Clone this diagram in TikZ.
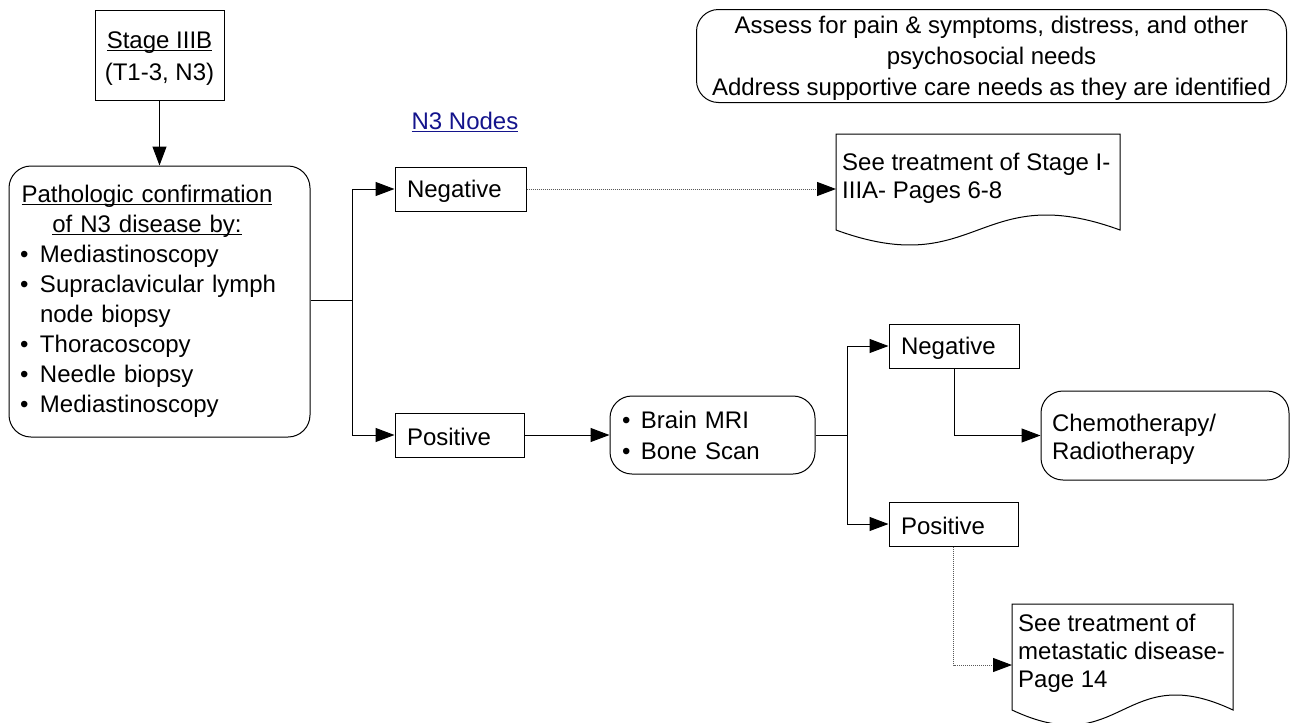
\documentclass[tikz,border=0pt]{standalone}
\usepackage{fontspec}
\setmainfont{Liberation Sans}
\usetikzlibrary{arrows.meta}

\definecolor{linkblue}{RGB}{20,20,140}
\newcommand{\bul}[1][20pt]{\makebox[#1][l]{\textbullet}}
% underline set close to the baseline
\newcommand{\ulx}[1]{\setbox0\hbox{#1}\rlap{\rule[-2.6pt]{\wd0}{1.1pt}}\box0}
% lower a block of text without changing the size it reports
\newcommand{\sinktext}[2]{\raisebox{-#1}[\height][\depth]{#2}}

\begin{document}
\begin{tikzpicture}[x=1pt,y=-1pt,
  every node/.style={font=\fontsize{24}{28}\selectfont},
  box/.style={draw=black, line width=1pt, fill=white, inner ysep=0pt},
  lbox/.style={box, align=left, inner xsep=12pt},
  rbox/.style={box, rounded corners=22pt},
  conn/.style={line width=1pt},
  tip/.style={-{Triangle[length=19pt,width=14pt,black]}},
  arr/.style={conn, tip},
  dotconn/.style={line width=1pt, draw=black!65, dash pattern=on 1pt off 1pt, tip},
  docline/.style={draw=black, line width=1pt, fill=white}]

\useasboundingbox (0,0) rectangle (1291,723);

% ---- stage and confirmation ----
\node[box, minimum width=129pt, minimum height=90pt,
      font=\fontsize{24}{32}\selectfont] (stage) at (159.5,55)
  {\sinktext{3pt}{\begin{tabular}{@{}c@{}}\ulx{Stage IIIB}\\(T1-3, N3)\end{tabular}}};

\node[rbox, minimum width=301pt, minimum height=271pt, align=left,
      inner xsep=11pt, text width=279pt,
      font=\fontsize{24}{30}\selectfont] (path) at (159.5,301.5)
  {\makebox[254pt]{\ulx{Pathologic confirmation}}\\
   \makebox[254pt]{\ulx{of N3 disease by:}}\\
   \bul Mediastinoscopy\\
   \bul Supraclavicular lymph\\
   \hspace*{20pt}node biopsy\\
   \bul Thoracoscopy\\
   \bul Needle biopsy\\
   \bul Mediastinoscopy};

\draw[arr] (stage.south) -- (path.north);

% ---- first split ----
\node[lbox, minimum height=44pt, text width=107pt] (neg1) at (460.5,189) {\sinktext{2pt}{Negative}};
\node[lbox, minimum height=44pt, text width=105pt] (pos1) at (459.5,435) {\sinktext{2pt}{Positive}};
\node[text=linkblue] (n3) at (465,122) {\ulx{N3 Nodes}};

\coordinate (j1) at (352,300);
\draw[conn] (path.east |- j1) -- (j1);
\draw[arr] (j1) |- (neg1.west);
\draw[arr] (j1) |- (pos1.west);

% ---- document: stage I-IIIA (wavy lower edge) ----
\draw[docline] (836,134) -- (1120,134) -- (1120,230)
  .. controls (978,178) and (978,282) .. (836,230) -- cycle;
\node[anchor=north west, align=left, inner sep=0pt] (doc1) at (842,153)
  {See treatment of Stage I-\\IIIA- Pages 6-8};
\coordinate (doc1in) at (836,189);
\draw[dotconn] (neg1.east) -- (doc1in);

% ---- imaging ----
\node[rbox, minimum width=205pt, minimum height=78pt, align=left,
      inner xsep=12pt, text width=181pt,
      font=\fontsize{24}{31}\selectfont] (brain) at (712.5,435)
  {\bul[19pt]Brain MRI\\ \bul[19pt]Bone Scan};
\draw[arr] (pos1.east) -- (brain.west);

% ---- second split ----
\node[lbox, minimum height=44pt, text width=106pt] (neg2) at (954,346) {\sinktext{2pt}{Negative}};
\node[lbox, minimum height=44pt, text width=105pt] (pos2) at (953.5,524) {\sinktext{2pt}{Positive}};

\coordinate (j2) at (847,435);
\draw[conn] (brain.east) -- (j2);
\draw[arr] (j2) |- (neg2.west);
\draw[arr] (j2) |- (pos2.west);

\node[rbox, minimum width=248pt, minimum height=89pt, inner xsep=11pt] (chemo) at (1165,435.5)
  {\makebox[226pt][l]{\sinktext{4pt}{\begin{tabular}{@{}l@{}}Chemotherapy/\\Radiotherapy\end{tabular}}}};
\draw[arr] (neg2.south) |- (chemo.west);

% ---- document: metastatic disease (wavy lower edge) ----
\draw[docline] (1012,604) -- (1233,604) -- (1233,710)
  .. controls (1122.5,658) and (1122.5,762) .. (1012,710) -- cycle;
\node[anchor=north west, align=left, inner sep=0pt] (doc2) at (1018,614)
  {See treatment of\\metastatic disease-\\Page 14};
\coordinate (doc2in) at (1012,665);
\draw[dotconn] (pos2.south) |- (doc2in);

% ---- supportive care ----
\node[rbox, minimum width=590pt, minimum height=90pt,
      font=\fontsize{24}{31}\selectfont] (care) at (991.5,56)
  {\sinktext{2pt}{\begin{tabular}{@{}c@{}}Assess for pain \& symptoms, distress, and other\\
   psychosocial needs\\
   Address supportive care needs as they are identified\end{tabular}}};

\end{tikzpicture}
\end{document}
